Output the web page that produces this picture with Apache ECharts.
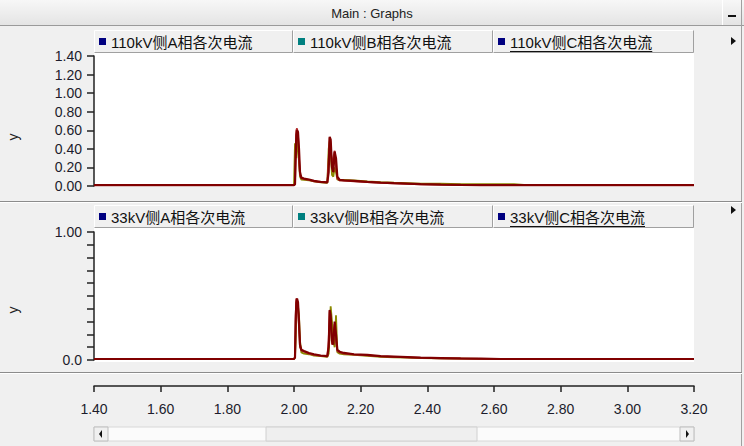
<!DOCTYPE html>
<html><head><meta charset="utf-8">
<script src="https://cdn.jsdelivr.net/npm/echarts@6/dist/echarts.min.js"></script>
<style>html,body{margin:0;padding:0;background:#f0f0f0;}#c{width:744px;height:446px;}</style>
</head><body><div id="c"></div>
<script>
// ---- data ----
var title = 'Main : Graphs';
var legend110 = ['110kV侧A相各次电流', '110kV侧B相各次电流', '110kV侧C相各次电流'];
var legend33 = ['33kV侧A相各次电流', '33kV侧B相各次电流', '33kV侧C相各次电流'];
var t = [1.40, 2.000, 2.003, 2.005, 2.007, 2.009, 2.012, 2.015, 2.018, 2.022,
         2.030, 2.045, 2.060, 2.080, 2.100, 2.104, 2.107, 2.110, 2.114, 2.118,
         2.122, 2.126, 2.130, 2.137, 2.150, 2.180, 2.220, 2.260, 2.300, 2.340,
         2.380, 2.440, 2.500, 2.560, 2.620, 2.660, 2.700, 3.20];
var hvA = [0.01,0.01,0.46,0.40,0.30,0.50,0.45,0.25,0.10,0.07, 0.065,0.06,0.05,0.04,0.035, 0.40,0.48,0.35,0.12,0.10, 0.20,0.15,0.07,0.06,0.065, 0.06,0.05,0.042,0.035,0.03, 0.025,0.025,0.02,0.02,0.02, 0.02,0.01,0.01];
var hvB = [0.01,0.01,0.02,0.40,0.60,0.62,0.55,0.30,0.12,0.085, 0.075,0.065,0.05,0.042,0.038, 0.30,0.52,0.45,0.18,0.30, 0.38,0.20,0.08,0.06,0.058, 0.05,0.042,0.034,0.028,0.022, 0.018,0.014,0.011,0.01,0.01, 0.01,0.01,0.01];
var hvC = [0.01,0.01,0.02,0.30,0.55,0.60,0.58,0.40,0.15,0.09, 0.08,0.07,0.055,0.045,0.04, 0.15,0.53,0.50,0.20,0.15, 0.37,0.30,0.10,0.065,0.06, 0.055,0.045,0.036,0.03,0.025, 0.02,0.015,0.012,0.01,0.01, 0.01,0.01,0.01];
var lvA = [0.008,0.008,0.02,0.15,0.35,0.45,0.42,0.35,0.15,0.06, 0.05,0.045,0.035,0.03,0.025, 0.05,0.20,0.42,0.30,0.15, 0.10,0.35,0.06,0.05,0.045, 0.04,0.033,0.025,0.02,0.018, 0.015,0.013,0.011,0.009,0.008, 0.008,0.008,0.008];
var lvB = [0.008,0.008,0.02,0.35,0.48,0.47,0.40,0.25,0.10,0.075, 0.065,0.05,0.04,0.033,0.028, 0.15,0.38,0.30,0.12,0.20, 0.28,0.15,0.07,0.06,0.05, 0.042,0.036,0.028,0.024,0.02, 0.016,0.013,0.011,0.009,0.008, 0.008,0.008,0.008];
var lvC = [0.008,0.008,0.02,0.30,0.45,0.48,0.45,0.30,0.12,0.08, 0.07,0.055,0.045,0.035,0.03, 0.10,0.39,0.35,0.15,0.12, 0.30,0.20,0.08,0.065,0.055, 0.045,0.04,0.03,0.026,0.022, 0.018,0.015,0.012,0.01,0.008, 0.008,0.008,0.008];
var xTicks = [1.40, 1.60, 1.80, 2.00, 2.20, 2.40, 2.60, 2.80, 3.00, 3.20];
var yTicksTop = [0.00, 0.20, 0.40, 0.60, 0.80, 1.00, 1.20, 1.40];

function pairs(xs, ys) { return xs.map(function (x, i) { return [x, ys[i]]; }); }

var FONT = '"Liberation Sans", Arial, "Noto Sans CJK SC", sans-serif';
var lineColors = ['#8a8a00', '#b02828', '#800000'];
var legendIcon = ['#000080', '#008080', '#000080'];

var chart = echarts.init(document.getElementById('c'), null, {renderer: 'svg'});

function mkSeries(name, data, gi, ci) {
  return {
    name: name, type: 'line', xAxisIndex: gi, yAxisIndex: gi,
    data: data, showSymbol: false, symbol: 'none', animation: false,
    lineStyle: {color: lineColors[ci], width: ci === 2 ? 2.2 : 1.8},
    z: 3 + ci
  };
}

function legendRow(y, names) {
  var els = [];
  var cells = [[94, 293], [293, 493], [493, 694]];
  cells.forEach(function (c, i) {
    els.push({type: 'rect', shape: {x: c[0], y: y, width: c[1] - c[0], height: 23},
      style: {fill: '#f0f0f0', stroke: null}, z: 1});
    els.push({type: 'polyline', shape: {points: [[c[0] + 0.5, y + 23], [c[0] + 0.5, y + 0.5], [c[1] - 0.5, y + 0.5]]},
      style: {stroke: '#ffffff', lineWidth: 1, fill: null}, z: 2});
    els.push({type: 'polyline', shape: {points: [[c[0] + 0.5, y + 22.5], [c[1] - 0.5, y + 22.5], [c[1] - 0.5, y + 0.5]]},
      style: {stroke: '#a0a0a0', lineWidth: 1, fill: null}, z: 2});
    els.push({type: 'rect', shape: {x: c[0] + 5, y: y + 8, width: 7, height: 7},
      style: {fill: legendIcon[i]}, z: 3});
    els.push({type: 'text', x: c[0] + 17, y: y + 12,
      style: {text: names[i], fontSize: 15, fontFamily: FONT, fill: '#111', textVerticalAlign: 'middle', textAlign: 'left'}, z: 3});
    if (i === 2) {
      var w = echarts.format.getTextRect ? echarts.format.getTextRect(names[i], '15px ' + FONT).width : 142;
      els.push({type: 'line', shape: {x1: c[0] + 17, y1: y + 21.5, x2: c[0] + 17 + w, y2: y + 21.5},
        style: {stroke: '#111', lineWidth: 1}, z: 3});
    }
  });
  return els;
}

var graphic = [
  {type: 'rect', shape: {x: 0, y: 0, width: 744, height: 25},
    style: {fill: new echarts.graphic.LinearGradient(0, 0, 0, 1, [{offset: 0, color: '#f7f7f7'}, {offset: 1, color: '#e4e4e4'}])}, z: 0},
  {type: 'line', shape: {x1: 0, y1: 25.5, x2: 744, y2: 25.5}, style: {stroke: '#9a9a9a', lineWidth: 1}, z: 1},
  {type: 'line', shape: {x1: 722.5, y1: 0, x2: 722.5, y2: 25}, style: {stroke: '#ffffff', lineWidth: 1}, z: 1},
  {type: 'line', shape: {x1: 741.5, y1: 0, x2: 741.5, y2: 446}, style: {stroke: '#a0a0a0', lineWidth: 1}, z: 1},
  {type: 'rect', shape: {x: 728, y: 15, width: 8, height: 2}, style: {fill: '#111'}, z: 2},
  {type: 'text', x: 372, y: 13, style: {text: title, fontSize: 13, fontFamily: FONT, fill: '#222', textAlign: 'center', textVerticalAlign: 'middle'}, z: 2},
  {type: 'line', shape: {x1: 0, y1: 201.5, x2: 742, y2: 201.5}, style: {stroke: '#8c8c8c', lineWidth: 1}, z: 1},
  {type: 'line', shape: {x1: 0, y1: 202.5, x2: 742, y2: 202.5}, style: {stroke: '#ffffff', lineWidth: 1}, z: 1},
  {type: 'line', shape: {x1: 0, y1: 372.5, x2: 742, y2: 372.5}, style: {stroke: '#8c8c8c', lineWidth: 1}, z: 1},
  {type: 'line', shape: {x1: 0, y1: 373.5, x2: 742, y2: 373.5}, style: {stroke: '#ffffff', lineWidth: 1}, z: 1},
  {type: 'rect', shape: {x: 94, y: 53, width: 600, height: 134}, style: {fill: '#ffffff'}, z: 0},
  {type: 'rect', shape: {x: 94, y: 228, width: 600, height: 134}, style: {fill: '#ffffff'}, z: 0},
  {type: 'polygon', shape: {points: [[731, 37], [736, 41], [731, 45]]}, style: {fill: '#111'}, z: 2},
  {type: 'polygon', shape: {points: [[731, 206], [736, 210], [731, 214]]}, style: {fill: '#111'}, z: 2},
  {type: 'text', x: 13, y: 137, rotation: Math.PI / 2, style: {text: 'y', fontSize: 14, fontFamily: FONT, fill: '#222', textAlign: 'center', textVerticalAlign: 'middle'}, z: 2},
  {type: 'text', x: 13, y: 310, rotation: Math.PI / 2, style: {text: 'y', fontSize: 14, fontFamily: FONT, fill: '#222', textAlign: 'center', textVerticalAlign: 'middle'}, z: 2},
  {type: 'rect', shape: {x: 94, y: 427, width: 600, height: 14}, style: {fill: '#fbfbfb', stroke: '#d8d8d8', lineWidth: 1}, z: 1},
  {type: 'rect', shape: {x: 266, y: 427, width: 211, height: 14}, style: {fill: '#efefef', stroke: '#d0d0d0', lineWidth: 1}, z: 2},
  {type: 'rect', shape: {x: 94, y: 427, width: 14, height: 14}, style: {fill: '#f0f0f0', stroke: '#bdbdbd', lineWidth: 1}, z: 2},
  {type: 'rect', shape: {x: 680, y: 427, width: 14, height: 14}, style: {fill: '#f0f0f0', stroke: '#bdbdbd', lineWidth: 1}, z: 2},
  {type: 'polygon', shape: {points: [[102, 430], [99, 434], [102, 438]]}, style: {fill: '#111'}, z: 3},
  {type: 'polygon', shape: {points: [[686, 430], [689, 434], [686, 438]]}, style: {fill: '#111'}, z: 3}
].concat(legendRow(30, legend110)).concat(legendRow(205, legend33));

var axisLabelStyle = {fontSize: 14, fontFamily: FONT, color: '#1c1c2c'};

var option = {
  backgroundColor: '#f0f0f0',
  animation: false,
  graphic: graphic,
  grid: [
    {left: 94, width: 600, top: 56, height: 130, show: false},
    {left: 94, width: 600, top: 232, height: 128, show: false}
  ],
  xAxis: [
    {gridIndex: 0, type: 'value', min: 1.4, max: 3.2, show: false},
    {gridIndex: 1, type: 'value', min: 1.4, max: 3.2, interval: 0.2, position: 'bottom', offset: 26,
      axisLine: {show: true, onZero: false, lineStyle: {color: '#222', width: 1.5}},
      axisTick: {show: true, inside: false, length: 6, lineStyle: {color: '#222', width: 1.5}},
      splitLine: {show: false},
      axisLabel: Object.assign({margin: 16, formatter: function (v) { return v.toFixed(2); }}, axisLabelStyle)}
  ],
  yAxis: [
    {gridIndex: 0, type: 'value', min: 0, max: 1.4, interval: 0.2,
      axisLine: {show: true, lineStyle: {color: '#222', width: 1.5}},
      axisTick: {show: true, length: 7, lineStyle: {color: '#222', width: 1.5}},
      splitLine: {show: false},
      axisLabel: Object.assign({margin: 12, formatter: function (v) { return v.toFixed(2); }}, axisLabelStyle)},
    {gridIndex: 1, type: 'value', min: 0, max: 1.0, interval: 0.1,
      axisLine: {show: true, lineStyle: {color: '#222', width: 1.5}},
      axisTick: {show: true, length: 7, lineStyle: {color: '#222', width: 1.5}},
      splitLine: {show: false},
      axisLabel: Object.assign({margin: 12, showMinLabel: true, showMaxLabel: true,
        formatter: function (v) { if (Math.abs(v - 1) < 1e-6) return '1.00'; if (Math.abs(v) < 1e-6) return '0.0'; return ''; }}, axisLabelStyle)}
  ],
  series: [
    mkSeries(legend110[0], pairs(t, hvA), 0, 0),
    mkSeries(legend110[1], pairs(t, hvB), 0, 1),
    mkSeries(legend110[2], pairs(t, hvC), 0, 2),
    mkSeries(legend33[0], pairs(t, lvA), 1, 0),
    mkSeries(legend33[1], pairs(t, lvB), 1, 1),
    mkSeries(legend33[2], pairs(t, lvC), 1, 2)
  ]
};
chart.setOption(option);
</script>
</body></html>
